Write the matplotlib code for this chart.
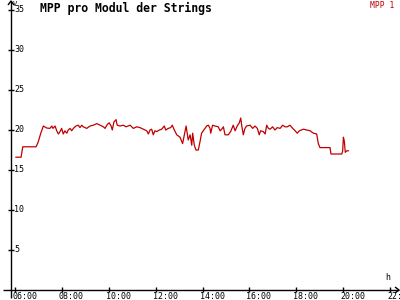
import matplotlib
matplotlib.use("Agg")
import matplotlib.pyplot as plt

# MPP per module, hours of the day vs value
hours = [6.04, 6.26, 6.33, 6.90, 6.99, 7.10, 7.21, 7.35, 7.49, 7.57, 7.62, 7.71, 7.78, 7.85,
         7.92, 7.99, 8.06, 8.13, 8.21, 8.27, 8.35, 8.42, 8.49, 8.60, 8.70, 8.77, 8.85, 8.91,
         9.06, 9.20, 9.34, 9.49, 9.63, 9.77, 9.84, 9.94, 10.02, 10.10, 10.15, 10.22, 10.31,
         10.36, 10.48, 10.62, 10.74, 10.91, 11.05, 11.19, 11.33, 11.47, 11.62, 11.69, 11.76,
         11.83, 11.90, 11.97, 12.05, 12.16, 12.26, 12.37, 12.43, 12.54, 12.64, 12.71, 12.78,
         12.90, 13.04, 13.15, 13.30, 13.39, 13.47, 13.54, 13.58, 13.65, 13.72, 13.82, 13.89,
         13.96, 14.03, 14.18, 14.25, 14.32, 14.35, 14.43, 14.53, 14.67, 14.75, 14.82, 14.89,
         14.96, 15.10, 15.20, 15.31, 15.39, 15.48, 15.57, 15.63, 15.67, 15.74, 15.81, 15.88,
         16.03, 16.14, 16.24, 16.34, 16.42, 16.48, 16.59, 16.67, 16.74, 16.81, 16.88, 16.99,
         17.09, 17.19, 17.31, 17.42, 17.52, 17.62, 17.73, 17.85, 17.95, 18.04, 18.13, 18.30,
         18.44, 18.59, 18.73, 18.87, 18.94, 19.01, 19.44, 19.48, 19.94, 19.98, 20.01, 20.05,
         20.09, 20.15, 20.22]
mpp = [16.6, 16.6, 17.9, 17.9, 18.5, 19.6, 20.5, 20.25, 20.2, 20.5, 20.2, 20.5, 19.9, 19.5,
       19.8, 20.2, 19.5, 19.9, 19.6, 20.0, 20.2, 19.9, 20.2, 20.5, 20.6, 20.3, 20.6, 20.4,
       20.2, 20.5, 20.6, 20.8, 20.6, 20.4, 20.2, 20.7, 20.9, 20.5, 20.0, 21.0, 21.3,
       20.6, 20.5, 20.6, 20.4, 20.6, 20.2, 20.4, 20.3, 20.1, 19.9, 19.5, 20.0,
       20.1, 19.4, 19.9, 19.8, 20.0, 20.1, 20.5, 20.0, 20.2, 20.3, 20.6, 20.1,
       19.4, 19.1, 18.3, 20.5, 18.75, 19.4, 18.1, 19.6, 18.1, 17.5, 17.5, 18.5,
       19.6, 19.9, 20.5, 20.6, 20.2, 19.6, 20.6, 20.5, 20.4, 19.9, 20.1, 20.4,
       19.4, 19.4, 19.8, 20.6, 19.9, 20.5, 20.9, 21.5, 20.6, 19.4, 20.2, 20.5,
       20.6, 20.2, 20.5, 20.2, 19.4, 19.9, 19.8, 19.5, 20.6, 20.2, 20.1, 20.4,
       20.0, 20.3, 20.2, 20.6, 20.4, 20.4, 20.6, 20.2, 19.9, 19.6, 19.9, 20.1,
       20.0, 19.9, 19.6, 19.5, 18.3, 17.8, 17.8, 17.0, 17.0, 17.4, 19.1, 18.6,
       17.2, 17.4, 17.4]

y_ticks = [5, 10, 15, 20, 25, 30, 35]
x_ticks = [6, 8, 10, 12, 14, 16, 18, 20, 22]
x_labels = ["06:00", "08:00", "10:00", "12:00", "14:00", "16:00", "18:00", "20:00", "22:"]

RED = "#c00000"
MONO = "DejaVu Sans Mono"

fig = plt.figure(figsize=(4, 3), dpi=100)
ax = fig.add_axes([0, 0, 1, 1])
ax.set_axis_off()

# pixel sizes in data units
px = 1 / 23.44
py = 1 / 8.0
x0 = 6 - 15 * px
ax.set_xlim(x0, x0 + 400 * px)
ax.set_ylim(-10 * py, 290 * py)

yax = x0 + 11 * px
k = dict(color="black", lw=1, solid_capstyle="butt")

# y axis with arrow
ax.plot([yax, yax], [-8 * py, 289 * py], **k)
ax.plot([yax - 3 * px, yax, yax + 3 * px], [285 * py, 289 * py, 285 * py], **k)
# x axis with arrow
ax.plot([x0 + 3 * px, x0 + 399 * px], [0, 0], **k)
ax.plot([x0 + 395 * px, x0 + 399 * px, x0 + 395 * px], [3 * py, 0, -3 * py], **k)

for v in y_ticks:
    ax.plot([yax - 3 * px, yax + 3 * px], [v, v], **k)
    ax.text(yax + 3 * px, v, str(v), fontsize=6, family=MONO, va="center", ha="left")

for h, lab in zip(x_ticks, x_labels):
    ax.plot([h, h], [-2 * py, 3 * py], **k)
    ax.text(h - 3 * px, -2 * py, lab, fontsize=6, family=MONO, va="top", ha="left")

ax.text(yax + 2 * px, 289 * py, "V", fontsize=5, family=MONO, va="top", ha="left")
ax.text(x0 + 385 * px, 8 * py, "h", fontsize=6, family=MONO, va="bottom", ha="left")

ax.plot(hours, mpp, color=RED, lw=0.9)

ax.text(x0 + 40 * px, 282 * py, "MPP pro Modul der Strings", fontsize=8.3, family=MONO,
        weight="bold", va="center", ha="left")
ax.text(x0 + 394 * px, 285 * py, "MPP 1", fontsize=5.8, family=MONO, color=RED,
        va="center", ha="right")

fig.savefig("out.png", dpi=100)
